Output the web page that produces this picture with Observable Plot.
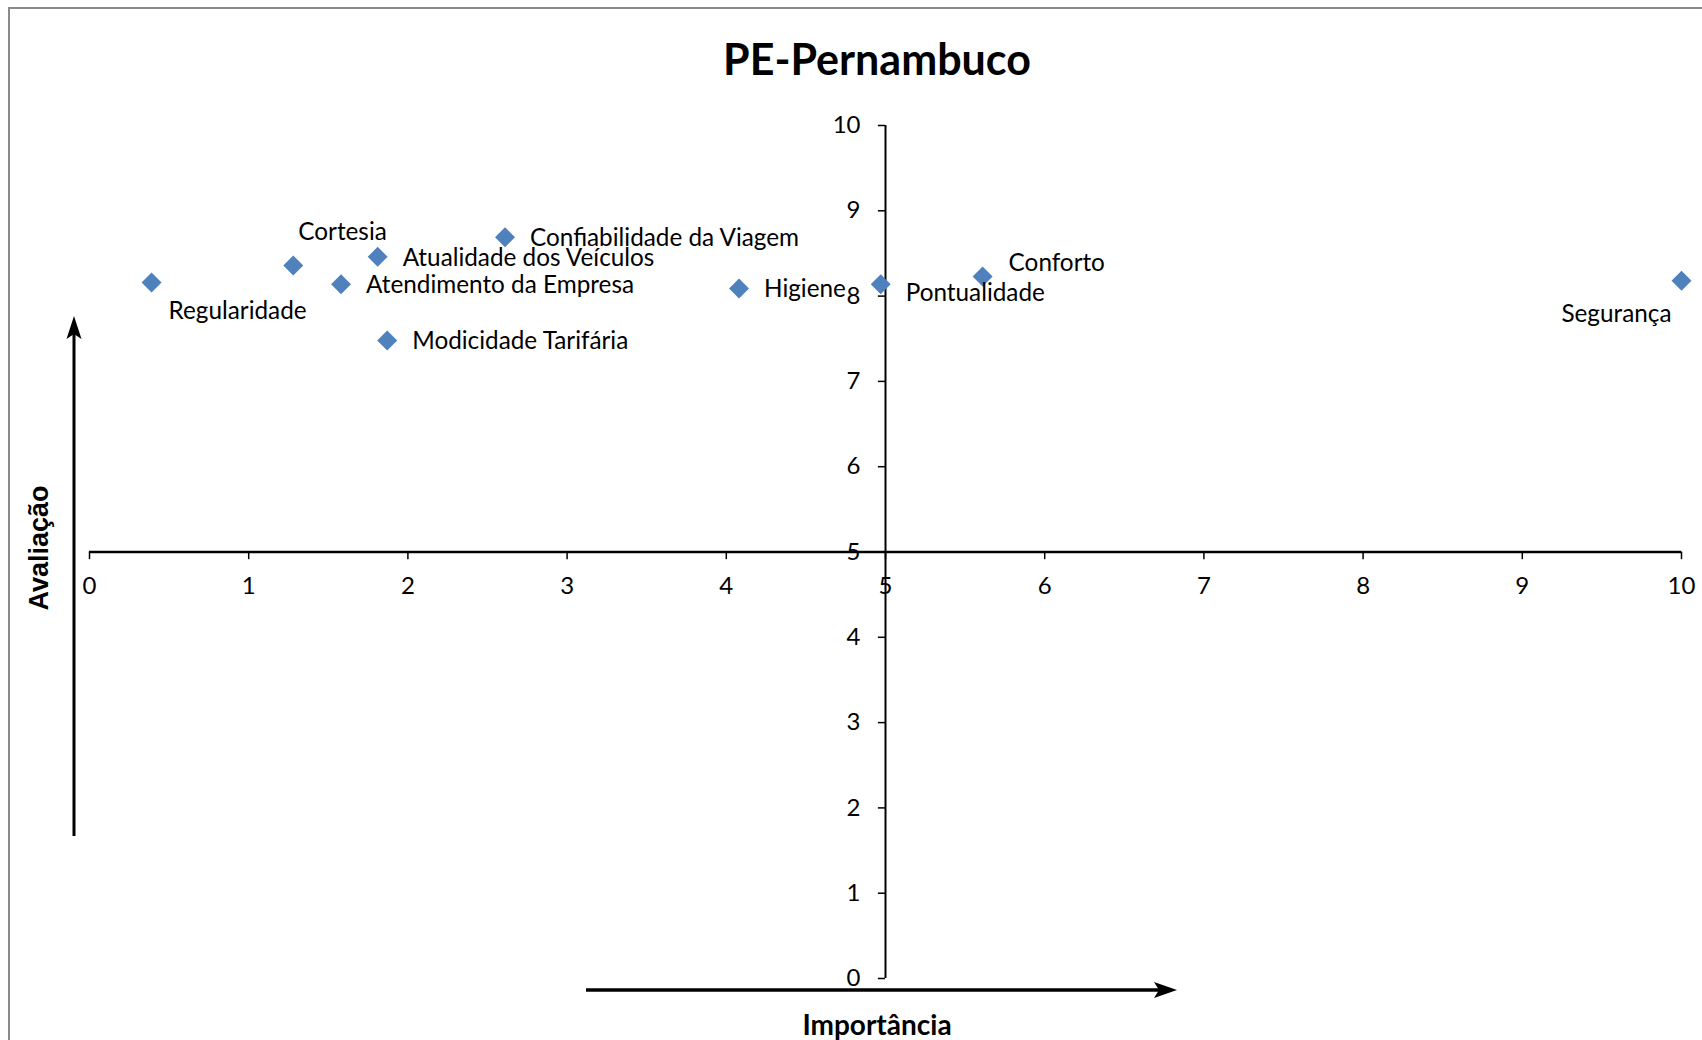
<!DOCTYPE html>
<html>
<head>
<meta charset="utf-8">
<script src="https://cdn.jsdelivr.net/npm/d3@7"></script>
<script src="https://cdn.jsdelivr.net/npm/@observablehq/plot@0.6"></script>
<style>
  body { margin: 0; background: #fff; }
  #wrap { position: relative; width: 1702px; height: 1040px; overflow: hidden; background: #fff; }
  #frame { position: absolute; left: 8px; top: 7px; width: 1800px; height: 1200px; border: 2px solid #8a8a8a; box-sizing: border-box; }
  #chart { position: absolute; left: 0; top: 0; }
  .ttl { position: absolute; transform: translate(-50%, -50%); white-space: nowrap; color: #000; font-weight: bold; }
  #title { left: 877px; top: 58px; font-family: Lato, sans-serif; font-size: 43px; }
  #xtitle { left: 877px; top: 1024px; font-family: Lato, sans-serif; font-size: 28px; }
  #ytitle { left: 39px; top: 548px; font-family: "Liberation Sans", Arial, sans-serif; font-size: 27px; transform: translate(-50%, -50%) rotate(-90deg); }
</style>
</head>
<body>
<div id="wrap">
  <div id="frame"></div>
  <div id="chart"></div>
  <div id="title" class="ttl">PE-Pernambuco</div>
  <div id="xtitle" class="ttl">Importância</div>
  <div id="ytitle" class="ttl">Avaliação</div>
</div>
<script>
// ---- data ----
const names = ["Regularidade", "Cortesia", "Atendimento da Empresa", "Atualidade dos Veículos", "Modicidade Tarifária", "Confiabilidade da Viagem", "Higiene", "Pontualidade", "Conforto", "Segurança"];
const importancia = [0.39, 1.28, 1.58, 1.81, 1.87, 2.61, 4.08, 4.97, 5.61, 10.0];
const avaliacao = [8.16, 8.36, 8.14, 8.46, 7.48, 8.69, 8.09, 8.14, 8.23, 8.18];
const xTicks = [0, 1, 2, 3, 4, 5, 6, 7, 8, 9, 10];
const yTicks = [0, 1, 2, 3, 4, 5, 6, 7, 8, 9, 10];

// ---- layout (label placement, not data) ----
const labelLayout = {
  "Regularidade": {dx: 17, dy: 29, anchor: "start"},
  "Cortesia": {dx: 5, dy: -33, anchor: "start"},
  "Pontualidade": {dx: 25, dy: 9, anchor: "start"},
  "Conforto": {dx: 26, dy: -13, anchor: "start"},
  "Segurança": {dx: -10, dy: 33, anchor: "end"}
};
const defaultLayout = {dx: 25, dy: 1, anchor: "start"};

const rows = names.map((n, i) => ({name: n, x: importancia[i], y: avaliacao[i]}));
const labelFont = "Lato, sans-serif";
const fs = 24.3;

const labelMarks = rows.map(r => {
  const L = labelLayout[r.name] || defaultLayout;
  return Plot.text([r], {x: "x", y: "y", text: "name", dx: L.dx, dy: L.dy, textAnchor: L.anchor,
    fontSize: fs, fontFamily: labelFont, fill: "#000"});
});

const chart = Plot.plot({
  width: 1702,
  height: 1040,
  marginLeft: 89,
  marginRight: 21,
  marginTop: 125,
  marginBottom: 62,
  x: {domain: [0, 10], axis: null},
  y: {domain: [0, 10], axis: null},
  style: {background: "transparent", overflow: "visible"},
  marks: [
    // axes crossing at (5,5)
    Plot.ruleY([5], {x1: 0, x2: 10, stroke: "#000", strokeWidth: 2.5}),
    Plot.ruleX([5], {y1: 0, y2: 10, stroke: "#000", strokeWidth: 2}),
    // tick marks
    Plot.ruleX(xTicks, {x: d => d, y1: 5, y2: 4.91, stroke: "#000", strokeWidth: 1.5}),
    Plot.ruleY(yTicks, {y: d => d, x1: 5, x2: 4.955, stroke: "#000", strokeWidth: 1.5}),
    // tick labels
    Plot.text(xTicks, {x: d => d, y: 5, text: d => String(d), dy: 34, fontSize: 24, fontFamily: labelFont, fill: "#000"}),
    Plot.text(yTicks, {x: 5, y: d => d, text: d => String(d), dx: -25, textAnchor: "end", fontSize: 24, fontFamily: labelFont, fill: "#000"}),
    // points
    Plot.dot(rows, {x: "x", y: "y", symbol: "diamond2", r: 9, fill: "#4F81BD", stroke: "none"}),
    ...labelMarks
  ]
});
document.getElementById("chart").appendChild(chart);

// decorative arrows
const svg = d3.select(chart);
const g = svg.append("g");
g.append("line").attr("x1", 74).attr("y1", 836).attr("x2", 74).attr("y2", 330).attr("stroke", "#000").attr("stroke-width", 3);
g.append("path").attr("d", "M74,316 L66.5,339 L74,334 L81.5,339 Z").attr("fill", "#000");
g.append("line").attr("x1", 586).attr("y1", 990).attr("x2", 1163).attr("y2", 990).attr("stroke", "#000").attr("stroke-width", 3.5);
g.append("path").attr("d", "M1177,990 L1154,982 L1159,990 L1154,998 Z").attr("fill", "#000");
</script>
</body>
</html>
